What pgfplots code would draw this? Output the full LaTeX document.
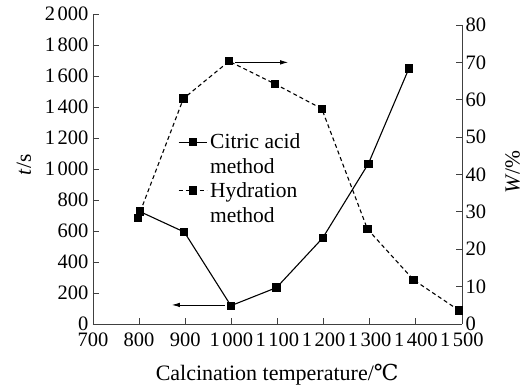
\documentclass[border=0pt]{standalone}
\usepackage{pgfplots}
\pgfplotsset{compat=1.18}
\usetikzlibrary{arrows.meta}
\usepackage{fontspec}
\setmainfont{Liberation Serif}
\newfontfamily\djv{DejaVu Serif}
\newcommand{\fs}{\fontsize{21.5}{25}\selectfont}
\newcommand{\ft}{\fontsize{20.5}{24}\selectfont}
\begin{document}
\begin{tikzpicture}
\pgfplotsset{
  common/.style={
    scale only axis, width=369pt, at={(0pt,0pt)}, anchor=south west,
    xmin=700, xmax=1500, clip=false,
    tick align=inside, major tick length=6pt,
    axis line style={black!75, line width=0.8pt},
    tick style={black!75, line width=0.8pt},
    /pgf/number format/assume math mode=true,
    /pgf/number format/1000 sep={\kern2.5pt},
    tick label style={font=\ft},
    label style={font=\fs},
  },
}
\begin{axis}[common,
  height=310pt, ymin=0, ymax=2000,
  axis x line*=bottom, axis y line*=left,
  xtick={700,800,...,1500},
  ytick={0,200,...,2000},
  xticklabel style={yshift=-8.5pt, inner xsep=0pt, inner ysep=0pt},
  yticklabel style={xshift=-1pt, inner ysep=0pt},
  ylabel={\textit{t}/s},
  ylabel style={at={(axis description cs:-0.187,0.513)}, anchor=center},
  xlabel={Calcination temperature/{\djv ℃}},
  xlabel style={at={(axis description cs:0.499,-0.163)}, anchor=center, font=\fontsize{22}{25}\selectfont},
]
\addplot[black, line width=1.1pt, mark=square*, mark size=3.6pt]
  coordinates {(802,725) (898,593) (999,118) (1098,235) (1198,555) (1297,1034) (1385,1649)};
\draw[black, line width=0.8pt, -{Latex[length=8pt,width=4.5pt]}] (axis cs:986,123) -- (axis cs:871,123);
\end{axis}
\begin{axis}[common,
  height=299pt, ymin=0, ymax=80,
  axis x line=none, axis y line*=right,
  ytick={0,10,...,80},
  yticklabel style={inner ysep=0pt},
  ylabel={\textit{W}/\%},
  ylabel style={at={(axis description cs:1.137,0.508)}, anchor=center, inner sep=0pt},
  legend style={draw=none, fill=none, font=\fs, at={(axis description cs:0.222,0.643)}, anchor=north west,
    nodes={align=left, inner xsep=3pt, inner ysep=0pt}, row sep=7pt},
  legend cell align=left,
  legend image code/.code={\draw[yshift=12.5pt,mark repeat=2,mark phase=2,#1] plot coordinates {(0pt,0pt) (14pt,0pt) (28pt,0pt)};},
]
\addlegendimage{black, line width=1.1pt, mark=square*, mark size=3.6pt}
\addlegendentry{Citric acid\\method}
\addplot[black, line width=1.1pt, dash pattern=on 4pt off 3pt, mark=square*, mark size=3.6pt, mark options={solid}]
  coordinates {(797,28.3) (896,60.3) (995,70.3) (1095,64.2) (1196,57.6) (1295,25.4) (1395,11.8) (1494,3.6)};
\addlegendentry{Hydration\\method}
\draw[black, line width=0.8pt, -{Latex[length=8pt,width=4.5pt]}] (axis cs:1008,70) -- (axis cs:1123,70);
\end{axis}
\pgfresetboundingbox
\path (-93pt,-63pt) rectangle (432pt,324pt);
\end{tikzpicture}
\end{document}
